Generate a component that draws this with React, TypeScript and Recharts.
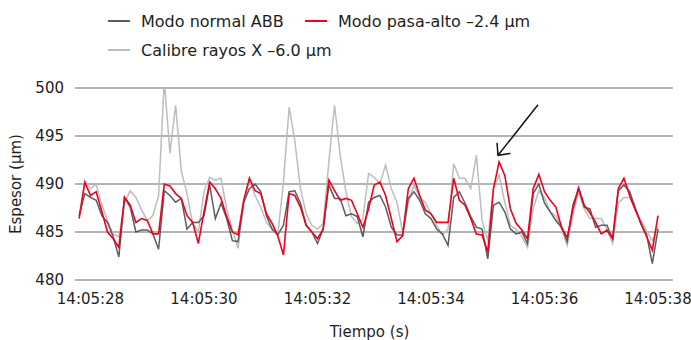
// Thickness trace comparison: ABB normal mode vs high-pass mode vs X-ray gauge.
import { LineChart, Line, XAxis, YAxis, CartesianGrid, ReferenceLine } from "recharts";

// samples every 0.1 s, first sample at -0.2 s relative to 14:05:28
const sampleStart = -0.2;
const sampleStep = 0.1;

const normalABB = [
  486.7, 489.0, 488.6, 488.3, 486.7, 486.0, 484.5, 482.4, 488.6, 487.6, 485.0, 485.2, 485.2, 484.8, 483.2, 489.3, 488.8,
  488.1, 488.5, 485.3, 486.0, 486.0, 486.7, 489.9, 486.4, 488.0, 486.4, 484.1, 484.0, 488.1, 489.5, 490.0, 489.2, 486.7,
  485.3, 484.7, 485.7, 489.2, 489.3, 488.0, 485.7, 485.0, 483.8, 485.3, 489.9, 488.5, 488.5, 486.7, 486.9, 486.6, 484.5,
  488.1, 488.6, 488.8, 487.6, 485.5, 484.7, 484.7, 488.5, 489.2, 488.3, 486.9, 486.4, 485.3, 484.8, 483.6, 488.6, 489.2,
  488.0, 486.6, 485.5, 485.3, 482.2, 487.8, 488.1, 487.1, 485.3, 484.8, 485.0, 483.8, 489.0, 490.0, 488.0, 487.1, 486.2,
  485.5, 484.0, 487.8, 489.5, 487.6, 487.4, 485.5, 485.7, 485.7, 484.3, 489.3, 489.9, 489.2, 487.5, 485.8, 484.7, 481.7, 485.3,
];

const pasaAlto = [
  486.4, 490.2, 488.8, 489.2, 487.1, 485.0, 484.3, 483.4, 488.6, 487.8, 486.0, 486.4, 486.2, 484.8, 484.8, 490.0, 489.8,
  489.0, 488.5, 486.7, 486.0, 483.8, 487.1, 490.2, 489.5, 488.5, 486.6, 485.0, 484.7, 488.3, 490.6, 489.3, 489.0, 486.9,
  485.9, 484.6, 482.6, 489.0, 488.8, 487.6, 485.7, 485.0, 484.3, 485.3, 490.4, 489.3, 488.3, 488.5, 488.3, 486.9, 485.5,
  487.4, 489.9, 490.2, 488.8, 486.4, 484.0, 484.6, 489.5, 490.6, 488.8, 487.3, 486.9, 486.0, 486.0, 486.0, 490.6, 488.3,
  487.8, 486.4, 484.8, 484.7, 482.9, 489.5, 492.3, 490.9, 487.4, 485.9, 485.2, 484.3, 489.5, 491.0, 489.2, 488.3, 487.6,
  485.5, 484.4, 487.4, 489.6, 487.8, 487.0, 486.0, 484.8, 485.2, 484.3, 489.5, 490.6, 488.8, 487.3, 485.9, 484.5, 483.1, 486.7,
];

const calibreRayosX = [
  486.7, 490.2, 489.5, 490.0, 487.8, 486.2, 484.8, 484.5, 488.0, 489.3, 488.6, 487.3, 486.2, 486.7, 488.8, 500.8, 493.2,
  498.2, 491.4, 489.0, 485.9, 485.0, 489.2, 490.7, 490.4, 490.6, 487.4, 485.2, 483.3, 488.1, 490.4, 488.8, 487.6, 486.0,
  485.3, 484.7, 490.2, 498.0, 494.5, 489.5, 486.9, 485.7, 485.3, 485.9, 492.3, 498.2, 493.0, 489.2, 486.6, 485.9, 486.4,
  491.1, 490.7, 490.0, 492.0, 489.5, 488.1, 485.0, 488.0, 489.9, 488.6, 488.1, 486.9, 485.7, 484.7, 485.3, 492.1, 490.6,
  490.6, 489.5, 493.0, 486.2, 484.1, 489.5, 490.9, 488.1, 485.7, 485.3, 484.5, 483.4, 487.4, 489.3, 488.6, 487.1, 486.7,
  485.3, 483.6, 486.7, 489.2, 487.4, 486.4, 486.4, 486.4, 485.2, 483.8, 488.0, 488.6, 488.6, 487.3, 486.2, 485.1, 484.1, 485.5,
];

const xTicks = [0, 2, 4, 6, 8, 10];
const xTickLabels = ["14:05:28", "14:05:30", "14:05:32", "14:05:34", "14:05:36", "14:05:38"];
const yTicks = [480, 485, 490, 495, 500];

// annotation arrow pointing at the high-pass peak (data coords)
const arrowFrom = { x: 7.885, y: 498.26 };
const arrowTo = { x: 7.181, y: 492.99 };

const data = normalABB.map((v, i) => ({
  t: +(sampleStart + i * sampleStep).toFixed(2),
  normal: v,
  pasa: pasaAlto[i],
  calibre: calibreRayosX[i],
}));

const FONT = "'DejaVu Sans', sans-serif";
const TEXT = "#1e1e1e";
const C_NORMAL = "#5c5c5c";
const C_PASA = "#f0001c";
const C_CALIBRE = "#bdbdbd";

const ArrowShape = (p: any) => {
  const { x1, y1, x2, y2 } = p;
  const back = Math.atan2(y1 - y2, x1 - x2);
  const len = 12.5;
  const spread = (43 * Math.PI) / 180;
  const ax = x2 + len * Math.cos(back - spread);
  const ay = y2 + len * Math.sin(back - spread);
  const bx = x2 + len * Math.cos(back + spread);
  const by = y2 + len * Math.sin(back + spread);
  return (
    <g stroke="#111" strokeWidth={1.5} fill="none">
      <line x1={x1} y1={y1} x2={x2} y2={y2} />
      <polyline points={`${ax},${ay} ${x2},${y2} ${bx},${by}`} />
    </g>
  );
};

const legendItems = [
  { label: "Modo normal ABB", color: C_NORMAL, left: 108, top: 21 },
  { label: "Modo pasa-alto \u20132.4 \u00b5m", color: C_PASA, left: 305, top: 21 },
  { label: "Calibre rayos X \u20136.0 \u00b5m", color: C_CALIBRE, left: 108, top: 50 },
];

const LegendBlock = () => (
  <>
    {legendItems.map((it) => (
      <div
        key={it.label}
        style={{ position: "absolute", left: it.left, top: it.top - 10, height: 20, display: "flex", alignItems: "center" }}
      >
        <span style={{ width: 22, height: 2, background: it.color, display: "inline-block" }} />
        <span style={{ marginLeft: 11, fontFamily: FONT, fontSize: 16, color: TEXT, whiteSpace: "nowrap" }}>
          {it.label}
        </span>
      </div>
    ))}
  </>
);

export default function App() {
  return (
    <div style={{ position: "absolute", left: 0, top: 0, width: 691, height: 340, background: "#fff" }}>
      <LegendBlock />
      <LineChart width={691} height={340} data={data} margin={{ top: 88, right: 18, bottom: 30, left: 0 }}>
        <CartesianGrid vertical={false} stroke="#9a9a9a" strokeWidth={1.5} />
        <XAxis
          dataKey="t"
          type="number"
          domain={[-0.273, 10.264]}
          allowDataOverflow
          ticks={xTicks}
          tickFormatter={(v) => xTickLabels[xTicks.indexOf(v)] ?? ""}
          axisLine={false}
          tickLine={false}
          tickSize={0}
          tickMargin={13}
          height={30}
          tick={{ fontFamily: FONT, fontSize: 15, fill: TEXT }}
          label={{
            content: (props: any) => {
              const vb = props.viewBox;
              return (
                <text
                  x={vb.x + vb.width / 2 - 4.5}
                  y={332}
                  textAnchor="middle"
                  dominantBaseline="central"
                  fontFamily={FONT}
                  fontSize={15}
                  fill={TEXT}
                >
                  Tiempo (s)
                </text>
              );
            },
          }}
        />
        <YAxis
          type="number"
          domain={[480, 500]}
          allowDataOverflow
          ticks={yTicks}
          axisLine={false}
          tickLine={false}
          tickSize={0}
          tickMargin={11}
          width={75}
          tick={{ fontFamily: FONT, fontSize: 15, fill: TEXT }}
          label={{
            content: (props: any) => {
              const vb = props.viewBox;
              const cy = vb.y + vb.height / 2;
              return (
                <text
                  x={16}
                  y={cy}
                  transform={`rotate(-90 16 ${cy})`}
                  textAnchor="middle"
                  dominantBaseline="central"
                  fontFamily={FONT}
                  fontSize={15}
                  fill={TEXT}
                >
                  Espesor (µm)
                </text>
              );
            },
          }}
        />
        <Line type="linear" dataKey="calibre" stroke={C_CALIBRE} strokeWidth={1.5} dot={false} isAnimationActive={false} />
        <Line type="linear" dataKey="normal" stroke={C_NORMAL} strokeWidth={1.5} dot={false} isAnimationActive={false} />
        <Line type="linear" dataKey="pasa" stroke={C_PASA} strokeWidth={1.6} dot={false} isAnimationActive={false} />
        <ReferenceLine segment={[arrowFrom, arrowTo]} shape={ArrowShape} />
      </LineChart>
    </div>
  );
}
